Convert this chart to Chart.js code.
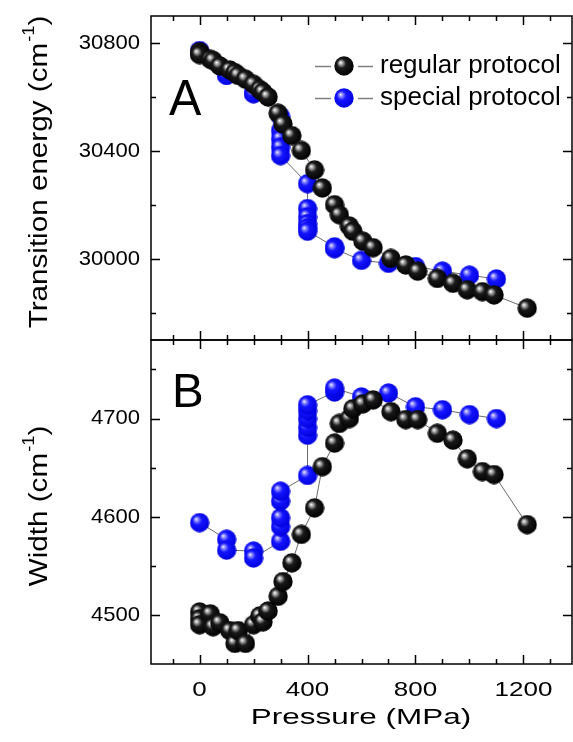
<!DOCTYPE html>
<html>
<head>
<meta charset="utf-8">
<script src="https://cdn.jsdelivr.net/npm/chart.js@4.4.0/dist/chart.umd.min.js"></script>
<style>
  html, body { margin: 0; padding: 0; background: #fff; }
  #chart { display: block; }
</style>
</head>
<body>
<canvas id="chart" width="573" height="742"></canvas>
<script>
// regular protocol (black)
const regPressure = [0, 0, 0, 40, 50, 75, 112, 131, 143, 170, 200, 223, 235, 254, 291, 309, 342, 377, 426, 455, 500, 518, 555, 568, 605, 643, 709, 764, 808, 881, 939, 992, 1048, 1091, 1214];
const regEnergy   = [30768, 30762, 30757, 30740, 30735, 30715, 30700, 30690, 30680, 30666, 30647, 30628, 30618, 30600, 30540, 30500, 30457, 30402, 30330, 30263, 30201, 30164, 30122, 30103, 30066, 30042, 30002, 29978, 29955, 29928, 29910, 29886, 29879, 29867, 29818];
const regWidth    = [4503, 4496, 4490, 4501, 4488, 4492, 4484, 4471, 4484, 4471, 4490, 4499, 4493, 4504, 4519, 4534, 4553, 4582, 4609, 4651, 4675, 4695, 4700, 4710, 4715, 4719, 4707, 4699, 4699, 4685, 4678, 4659, 4646, 4643, 4592];

// special protocol (blue)
const spPressure = [0, 100, 100, 200, 200, 300, 300, 300, 300, 300, 400, 400, 400, 400, 400, 400, 500, 500, 600, 700, 800, 900, 1000, 1100];
const spEnergy   = [30772, 30683, 30680, 30617, 30612, 30528, 30476, 30445, 30414, 30383, 30279, 30187, 30156, 30131, 30115, 30103, 30045, 30038, 29995, 29984, 29972, 29955, 29940, 29926];
const spWidth    = [4594, 4577, 4566, 4565, 4558, 4575, 4590, 4599, 4616, 4626, 4642, 4683, 4691, 4700, 4708, 4714, 4727, 4731, 4722, 4726, 4712, 4709, 4704, 4700];

// axes
const xRange = [-180, 1380];
const xMajor = [0, 400, 800, 1200];
const xMinor = [-100, 100, 200, 300, 500, 600, 700, 900, 1000, 1100, 1300];
const eRange = [29700, 30900];
const eMajor = [30000, 30400, 30800];
const eMinor = [29800, 30200, 30600];
const wRange = [4450, 4780];
const wMajor = [4500, 4600, 4700];
const wMinor = [4550, 4650, 4750];

const FONT = '"Liberation Sans", Arial, sans-serif';

function pts(xs, ys) {
  return xs.map((x, i) => ({ x: x, y: ys[i] }));
}

// shaded sphere marker
function ball(hi, mid, edge) {
  const r = 10;
  const c = document.createElement('canvas');
  c.width = c.height = 2 * r;
  const g = c.getContext('2d');
  const grd = g.createRadialGradient(r - 3.5, r - 3.5, 0, r - 1, r - 1, r + 1);
  grd.addColorStop(0, '#ffffff');
  grd.addColorStop(0.14, hi);
  grd.addColorStop(0.42, mid);
  grd.addColorStop(1, edge);
  g.fillStyle = grd;
  g.beginPath();
  g.arc(r, r, r - 0.3, 0, Math.PI * 2);
  g.fill();
  return c;
}
const blackBall = ball('#b8b8b8', '#1a1a1a', '#000000');
const blueBall = ball('#9a9aff', '#1515ff', '#0000dd');

function series(label, data, axis, img) {
  return {
    label: label,
    data: data,
    yAxisID: axis,
    showLine: true,
    borderColor: '#6a6a6a',
    borderWidth: 1,
    pointStyle: img,
    pointRadius: 10,
    pointHoverRadius: 10,
    clip: false
  };
}

function stretchText(c, str, x, y, font, align, sx) {
  c.save();
  c.font = font;
  c.textBaseline = 'middle';
  c.textAlign = align;
  c.translate(x, y);
  c.scale(sx, 1);
  c.fillText(str, 0, 0);
  c.restore();
}

// rotated title with cm^-1 superscript
function yTitle(c, main, cx, cy) {
  c.save();
  c.translate(cx, cy);
  c.rotate(-Math.PI / 2);
  c.fillStyle = '#000';
  c.textBaseline = 'alphabetic';
  c.textAlign = 'left';
  const big = '26px ' + FONT, small = '16px ' + FONT;
  c.font = big;
  const w1 = c.measureText(main).width;
  const w3 = c.measureText(')').width;
  c.font = small;
  const w2 = c.measureText('-1').width;
  const sx = 1.14;
  const total = (w1 + w2 + w3 + 1) * sx;
  c.scale(sx, 1);
  let x = -total / 2 / sx;
  c.font = big;
  c.fillText(main, x, 9);
  x += w1;
  c.font = small;
  c.fillText('-1', x + 1, -4);
  x += w2 + 1;
  c.font = big;
  c.fillText(')', x, 9);
  c.restore();
}

const decor = {
  id: 'decor',
  afterDraw(chart) {
    const c = chart.ctx;
    const sx = chart.scales.x, ya = chart.scales.yA, yb = chart.scales.yB;
    const L = chart.chartArea.left, R = chart.chartArea.right;
    c.save();
    c.strokeStyle = '#000';
    c.fillStyle = '#000';
    c.lineWidth = 1.5;

    [ya, yb].forEach(function (ys) {
      const T = ys.top, B = ys.bottom;
      c.strokeRect(L, T, R - L, B - T);
      // x ticks, inward on top and bottom
      const xt = function (v, len) {
        const p = Math.round(sx.getPixelForValue(v)) + 0.5;
        c.beginPath();
        c.moveTo(p, T); c.lineTo(p, T + len);
        c.moveTo(p, B); c.lineTo(p, B - len);
        c.stroke();
      };
      xMajor.forEach(v => xt(v, 9));
      xMinor.forEach(v => xt(v, 5));
    });

    const yt = function (ys, v, len) {
      const p = Math.round(ys.getPixelForValue(v)) + 0.5;
      c.beginPath();
      c.moveTo(L, p); c.lineTo(L + len, p);
      c.moveTo(R, p); c.lineTo(R - len, p);
      c.stroke();
    };
    eMajor.forEach(v => yt(ya, v, 9));
    eMinor.forEach(v => yt(ya, v, 5));
    wMajor.forEach(v => yt(yb, v, 9));
    wMinor.forEach(v => yt(yb, v, 5));

    // tick labels
    c.fillStyle = '#000';
    eMajor.forEach(v => stretchText(c, String(v), 140, ya.getPixelForValue(v), '21px ' + FONT, 'right', 1.05));
    wMajor.forEach(v => stretchText(c, String(v), 140, yb.getPixelForValue(v), '21px ' + FONT, 'right', 1.05));
    xMajor.forEach(v => stretchText(c, String(v), sx.getPixelForValue(v), 690, '20px ' + FONT, 'center', 1.3));

    // axis titles
    stretchText(c, 'Pressure (MPa)', 361, 718, '22px ' + FONT, 'center', 1.43);
    yTitle(c, 'Transition energy (cm', 38, (ya.top + ya.bottom) / 2 - 6);
    yTitle(c, 'Width (cm', 38, (yb.top + yb.bottom) / 2 + 4);

    // panel letters
    stretchText(c, 'A', 169, 101, '50px ' + FONT, 'left', 0.97);
    stretchText(c, 'B', 172, 393, '49px ' + FONT, 'left', 0.97);

    // legend
    const items = [['regular protocol', blackBall, 66], ['special protocol', blueBall, 98]];
    items.forEach(function (it) {
      c.strokeStyle = '#808080';
      c.lineWidth = 1.3;
      c.beginPath();
      c.moveTo(315, it[2] + 0.5); c.lineTo(373, it[2] + 0.5);
      c.stroke();
      c.fillStyle = '#fff';
      c.fillRect(331, it[2] - 11, 27, 22);
      c.drawImage(it[1], 334, it[2] - 10);
      c.fillStyle = '#000';
      stretchText(c, it[0], 380, it[2], '26px ' + FONT, 'left', 1.0);
    });
    c.restore();
  }
};

new Chart(document.getElementById('chart'), {
  type: 'scatter',
  data: {
    datasets: [
      series('regular protocol', pts(regPressure, regEnergy), 'yA', blackBall),
      series('special protocol', pts(spPressure, spEnergy), 'yA', blueBall),
      series('regular protocol', pts(regPressure, regWidth), 'yB', blackBall),
      series('special protocol', pts(spPressure, spWidth), 'yB', blueBall)
    ]
  },
  options: {
    responsive: false,
    animation: false,
    events: [],
    layout: { autoPadding: false, padding: { left: 151, top: 16, right: 1, bottom: 78 } },
    plugins: { legend: { display: false }, tooltip: { enabled: false } },
    scales: {
      x: {
        type: 'linear', min: xRange[0], max: xRange[1],
        ticks: { display: false }, grid: { display: false, drawTicks: false }, border: { display: false }
      },
      yB: {
        type: 'linear', position: 'left', stack: 'panels', stackWeight: 1, weight: 1,
        min: wRange[0], max: wRange[1],
        ticks: { display: false }, grid: { display: false, drawTicks: false }, border: { display: false }
      },
      yA: {
        type: 'linear', position: 'left', stack: 'panels', stackWeight: 1, weight: 2,
        min: eRange[0], max: eRange[1],
        ticks: { display: false }, grid: { display: false, drawTicks: false }, border: { display: false }
      }
    }
  },
  plugins: [decor]
});
</script>
</body>
</html>
